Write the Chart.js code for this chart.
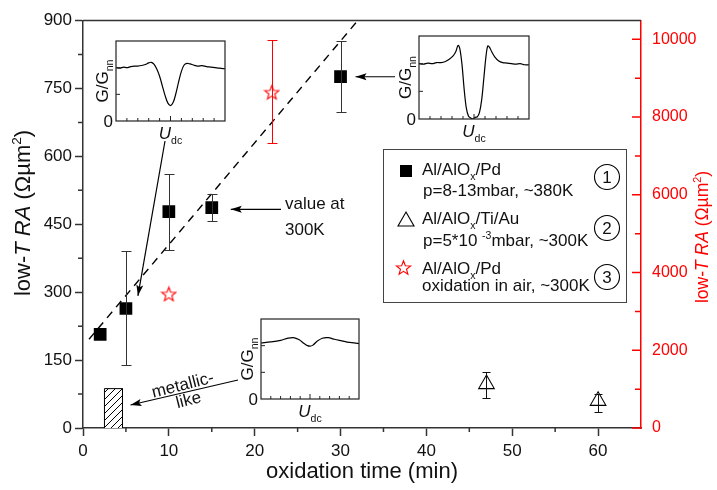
<!DOCTYPE html>
<html>
<head>
<meta charset="utf-8">
<script src="https://cdn.jsdelivr.net/npm/chart.js@4.4.0/dist/chart.umd.min.js"></script>
<style>
  html, body { margin: 0; padding: 0; background: #fff; }
  #wrap { position: relative; width: 717px; height: 490px; }
  #wrap canvas { position: absolute; }
</style>
</head>
<body>
<div id="wrap"><canvas id="main" width="717" height="490" style="left:0;top:0"></canvas></div>
<script>
const FONT = "'Liberation Sans', Arial, sans-serif";

// axes
const xTicks = [0, 10, 20, 30, 40, 50, 60];
const xMinor = [5, 15, 25, 35, 45, 55];
const yTicks = [0, 150, 300, 450, 600, 750, 900];
const yMinor = [75, 225, 375, 525, 675, 825];
const y2Ticks = [0, 2000, 4000, 6000, 8000, 10000];
const y2Minor = [1000, 3000, 5000, 7000, 9000];

// (1) Al/AlOx/Pd, p=8-13mbar
const pdTime = [2, 5, 10, 15, 30];
const pdRA = [207, 264, 478, 487, 776];
const pdLow = [null, 139, 393, 457, 697];
const pdHigh = [null, 392, 561, 517, 854];

// (2) Al/AlOx/Ti/Au
const tiTime = [47, 60];
const tiRA = [97, 60];
const tiLow = [66, 36];
const tiHigh = [123, 75];

// (3) oxidation in air, right axis
const airTime = [10, 22];
const airRA = [3450, 8640];
const airLow = [null, 7320];
const airHigh = [null, 9970];

// dashed guide line
const fitTime = [0.7, 32];
const fitRA = [196, 900];

// metallic-like hatched block
const metalTime = [2.5, 4.6];
const metalRA = 87;

// insets: G/Gnn vs Udc
const inset1U = [-1, -0.93, -0.86, -0.8, -0.73, -0.66, -0.6, -0.53, -0.46, -0.4, -0.35, -0.3, -0.25, -0.2, -0.15, -0.1, -0.05, 0, 0.05, 0.1, 0.15, 0.2, 0.25, 0.3, 0.36, 0.42, 0.5, 0.58, 0.66, 0.74, 0.82, 0.9, 1];
const inset1G = [1.0, 0.99, 1.01, 1.0, 1.02, 1.03, 1.03, 1.04, 1.06, 1.09, 1.1, 1.06, 0.97, 0.84, 0.66, 0.48, 0.34, 0.29, 0.35, 0.52, 0.74, 0.93, 1.05, 1.08, 1.07, 1.05, 1.03, 1.04, 1.02, 1.01, 1.0, 0.99, 0.98];
const inset2U = [-1, -0.92, -0.84, -0.76, -0.68, -0.6, -0.52, -0.45, -0.38, -0.33, -0.29, -0.26, -0.22, -0.18, -0.14, -0.1, -0.06, -0.02, 0.02, 0.06, 0.1, 0.14, 0.18, 0.22, 0.25, 0.28, 0.32, 0.38, 0.45, 0.52, 0.6, 0.68, 0.76, 0.84, 0.92, 1];
const inset2G = [1.0, 0.99, 1.01, 1.0, 1.02, 1.02, 1.04, 1.08, 1.14, 1.22, 1.33, 1.28, 1.0, 0.55, 0.2, 0.05, 0.02, 0.0, 0.03, 0.04, 0.12, 0.35, 0.75, 1.15, 1.32, 1.3, 1.22, 1.12, 1.05, 1.02, 1.01, 1.0, 0.99, 1.0, 0.98, 0.98];
const inset3U = [-1, -0.8, -0.6, -0.45, -0.34, -0.22, -0.12, -0.05, 0, 0.06, 0.14, 0.25, 0.37, 0.5, 0.65, 0.8, 1];
const inset3G = [1.05, 1.07, 1.1, 1.14, 1.15, 1.11, 1.04, 1.0, 0.99, 1.01, 1.08, 1.14, 1.15, 1.12, 1.09, 1.06, 1.04];

const mainCanvas = document.getElementById("main");
const mainCtx = mainCanvas.getContext("2d");

function starImage(size, color) {
  const c = document.createElement("canvas");
  c.width = c.height = size;
  const g = c.getContext("2d");
  const R = size / 2 - 1, r = R * 0.42, cx = size / 2, cy = size / 2 + R * 0.1;
  g.beginPath();
  for (let i = 0; i < 10; i++) {
    const a = -Math.PI / 2 + i * Math.PI / 5;
    const rad = i % 2 ? r : R;
    g.lineTo(cx + rad * Math.cos(a), cy + rad * Math.sin(a));
  }
  g.closePath();
  g.fillStyle = "#fff";
  g.fill();
  g.strokeStyle = color;
  g.lineWidth = 1.1;
  g.stroke();
  return c;
}

function hatchPattern() {
  const c = document.createElement("canvas");
  c.width = c.height = 7;
  const g = c.getContext("2d");
  g.fillStyle = "#fff";
  g.fillRect(0, 0, 7, 7);
  g.strokeStyle = "#000";
  g.lineWidth = 1;
  g.beginPath();
  g.moveTo(0, 7); g.lineTo(7, 0);
  g.moveTo(-1, 1); g.lineTo(1, -1);
  g.moveTo(6, 8); g.lineTo(8, 6);
  g.stroke();
  return mainCtx.createPattern(c, "repeat");
}

// text with italic / sub / sup pieces, y is the baseline
function drawRuns(ctx, runs, x, y, size, align) {
  const parts = runs.map(r => {
    const s = (r.sub || r.sup) ? size * 0.62 : size;
    const f = (r.it ? "italic " : "") + s + "px " + FONT;
    ctx.font = f;
    return { t: r.t, f: f, w: ctx.measureText(r.t).width, dy: r.sub ? size * 0.28 : r.sup ? -size * 0.4 : 0 };
  });
  const total = parts.reduce((a, p) => a + p.w, 0);
  let cx = align === "center" ? x - total / 2 : align === "right" ? x - total : x;
  ctx.textAlign = "left";
  ctx.textBaseline = "alphabetic";
  parts.forEach(p => {
    ctx.font = p.f;
    ctx.fillText(p.t, cx, y + p.dy);
    cx += p.w;
  });
}

function arrow(ctx, x1, y1, x2, y2) {
  ctx.beginPath();
  ctx.moveTo(x1, y1);
  ctx.lineTo(x2, y2);
  ctx.stroke();
  const a = Math.atan2(y2 - y1, x2 - x1), L = 11, W = 3.5;
  ctx.beginPath();
  ctx.moveTo(x2, y2);
  ctx.lineTo(x2 - L * Math.cos(a) + W * Math.sin(a), y2 - L * Math.sin(a) - W * Math.cos(a));
  ctx.lineTo(x2 - L * Math.cos(a) * 0.8, y2 - L * Math.sin(a) * 0.8);
  ctx.lineTo(x2 - L * Math.cos(a) - W * Math.sin(a), y2 - L * Math.sin(a) + W * Math.cos(a));
  ctx.closePath();
  ctx.fill();
}

const errorBars = {
  id: "errorBars",
  afterDatasetsDraw(chart) {
    const ctx = chart.ctx;
    chart.data.datasets.forEach((ds, i) => {
      if (!ds.errLow) return;
      const meta = chart.getDatasetMeta(i);
      const ys = chart.scales[ds.yAxisID];
      ctx.save();
      ctx.strokeStyle = ds.errColor;
      ctx.lineWidth = 1;
      meta.data.forEach((pt, j) => {
        if (ds.errLow[j] == null) return;
        const x = Math.round(pt.x) + 0.5;
        const yl = Math.round(ys.getPixelForValue(ds.errLow[j])) + 0.5;
        const yh = Math.round(ys.getPixelForValue(ds.errHigh[j])) + 0.5;
        const w = ds.errCap;
        ctx.beginPath();
        ctx.moveTo(x, yl); ctx.lineTo(x, yh);
        ctx.moveTo(x - w, yl); ctx.lineTo(x + w, yl);
        ctx.moveTo(x - w, yh); ctx.lineTo(x + w, yh);
        ctx.stroke();
      });
      ctx.restore();
    });
  }
};

const decor = {
  id: "decor",
  afterDraw(chart) {
    const ctx = chart.ctx;
    const a = chart.chartArea;
    const xs = chart.scales.x, ys = chart.scales.y, y2s = chart.scales.y2;
    ctx.save();

    // top frame line
    ctx.strokeStyle = "#333";
    ctx.lineWidth = 1.5;
    ctx.beginPath();
    ctx.moveTo(a.left, a.top); ctx.lineTo(a.right, a.top);
    ctx.stroke();

    // minor ticks
    ctx.lineWidth = 1.5;
    ctx.beginPath();
    yMinor.forEach(v => { const p = ys.getPixelForValue(v); ctx.moveTo(a.left - 5, p); ctx.lineTo(a.left, p); });
    xMinor.forEach(v => { const p = xs.getPixelForValue(v); ctx.moveTo(p, a.bottom); ctx.lineTo(p, a.bottom + 4); });
    ctx.stroke();

    // right axis ticks point inwards
    ctx.strokeStyle = "#ff0000";
    ctx.beginPath();
    y2Ticks.forEach(v => { const p = y2s.getPixelForValue(v); ctx.moveTo(a.right - 9, p); ctx.lineTo(a.right, p); });
    y2Minor.forEach(v => { const p = y2s.getPixelForValue(v); ctx.moveTo(a.right - 6, p); ctx.lineTo(a.right, p); });
    ctx.stroke();

    // axis titles
    const raRuns = [{ t: "low-" }, { t: "T", it: 1 }, { t: " " }, { t: "RA", it: 1 }, { t: " (\u03A9\u00B5m" }, { t: "2", sup: 1 }, { t: ")" }];
    ctx.fillStyle = "#111";
    ctx.save();
    ctx.translate(30, 213);
    ctx.rotate(-Math.PI / 2);
    drawRuns(ctx, raRuns, 0, 0, 22, "center");
    ctx.restore();

    ctx.fillStyle = "#ff0000";
    ctx.save();
    ctx.translate(708, 237);
    ctx.rotate(-Math.PI / 2);
    drawRuns(ctx, raRuns, 0, 0, 17.5, "center");
    ctx.restore();

    ctx.fillStyle = "#111";
    drawRuns(ctx, [{ t: "oxidation time (min)" }], (a.left + a.right) / 2, 478, 22, "center");

    // legend
    ctx.strokeStyle = "#444";
    ctx.lineWidth = 1;
    ctx.strokeRect(383.5, 149.5, 243, 153);
    ctx.fillStyle = "#000";
    ctx.fillRect(400, 165, 12, 12);
    ctx.strokeStyle = "#000";
    ctx.lineWidth = 1.1;
    ctx.beginPath();
    ctx.moveTo(406, 212); ctx.lineTo(414, 226); ctx.lineTo(398, 226); ctx.closePath();
    ctx.stroke();
    ctx.drawImage(starIcon, 395, 259);

    ctx.fillStyle = "#111";
    const L = 17;
    drawRuns(ctx, [{ t: "Al/AlO" }, { t: "x", sub: 1 }, { t: "/Pd" }], 422, 175, L, "left");
    drawRuns(ctx, [{ t: "p=8-13mbar, ~380K" }], 423, 196, L, "left");
    drawRuns(ctx, [{ t: "Al/AlO" }, { t: "x", sub: 1 }, { t: "/Ti/Au" }], 422, 224, L, "left");
    drawRuns(ctx, [{ t: "p=5*10 " }, { t: "-3", sup: 1 }, { t: "mbar, ~300K" }], 423, 246, L, "left");
    drawRuns(ctx, [{ t: "Al/AlO" }, { t: "x", sub: 1 }, { t: "/Pd" }], 422, 274, L, "left");
    drawRuns(ctx, [{ t: "oxidation in air, ~300K" }], 422, 291, L, "left");
    [["1", 177], ["2", 228], ["3", 277]].forEach(c => {
      ctx.beginPath();
      ctx.arc(607, c[1], 12.5, 0, Math.PI * 2);
      ctx.stroke();
      drawRuns(ctx, [{ t: c[0] }], 607, c[1] + 6, L, "center");
    });

    // annotations
    ctx.strokeStyle = "#000";
    ctx.fillStyle = "#000";
    ctx.lineWidth = 1.2;
    arrow(ctx, 165, 141, xs.getPixelForValue(5) + 12, ys.getPixelForValue(292));
    arrow(ctx, 395, ys.getPixelForValue(776), xs.getPixelForValue(30) + 15, ys.getPixelForValue(776));
    arrow(ctx, 281, ys.getPixelForValue(483), xs.getPixelForValue(15) + 19, ys.getPixelForValue(483));
    arrow(ctx, 238, 380, xs.getPixelForValue(4.6) + 8, 405);

    ctx.fillStyle = "#111";
    drawRuns(ctx, [{ t: "value at" }], 285, 209, L, "left");
    drawRuns(ctx, [{ t: "300K" }], 285, 235, L, "left");
    ctx.save();
    ctx.translate(184, 390);
    ctx.rotate(-14 * Math.PI / 180);
    drawRuns(ctx, [{ t: "metallic-" }], 0, 0, L, "center");
    drawRuns(ctx, [{ t: "like" }], 2, 16, L, "center");
    ctx.restore();

    ctx.restore();
  }
};

const starIcon = starImage(17, "#ff0000");
const starPoint = starImage(17, "#ff0000");

new Chart(mainCtx, {
  type: "scatter",
  data: {
    datasets: [
      {
        data: pdTime.map((t, i) => ({ x: t, y: pdRA[i] })),
        yAxisID: "y",
        pointStyle: "rect",
        pointRadius: 9,
        pointBackgroundColor: "#000",
        pointBorderColor: "#000",
        pointBorderWidth: 0,
        errLow: pdLow, errHigh: pdHigh, errColor: "#333", errCap: 5
      },
      {
        data: tiTime.map((t, i) => ({ x: t, y: tiRA[i] })),
        yAxisID: "y",
        pointStyle: "triangle",
        pointRadius: 9,
        pointBackgroundColor: "rgba(0,0,0,0)",
        pointBorderColor: "#000",
        pointBorderWidth: 1.1,
        errLow: tiLow, errHigh: tiHigh, errColor: "#111", errCap: 4
      },
      {
        data: airTime.map((t, i) => ({ x: t, y: airRA[i] })),
        yAxisID: "y2",
        pointStyle: starPoint,
        pointRadius: 8,
        errLow: airLow, errHigh: airHigh, errColor: "#ff0000", errCap: 5
      },
      {
        type: "line",
        data: fitTime.map((t, i) => ({ x: t, y: fitRA[i] })),
        yAxisID: "y",
        showLine: true,
        borderColor: "#000",
        borderWidth: 1.4,
        borderDash: [8, 6],
        pointRadius: 0,
        fill: false
      },
      {
        type: "line",
        data: [
          { x: metalTime[0], y: 0 }, { x: metalTime[0], y: metalRA },
          { x: metalTime[1], y: metalRA }, { x: metalTime[1], y: 0 }
        ],
        yAxisID: "y",
        showLine: true,
        borderColor: "#000",
        borderWidth: 1,
        pointRadius: 0,
        tension: 0,
        fill: "origin",
        backgroundColor: hatchPattern()
      }
    ]
  },
  options: {
    responsive: false,
    animation: false,
    devicePixelRatio: 1,
    layout: { padding: { top: 20 } },
    plugins: { legend: { display: false }, tooltip: { enabled: false } },
    scales: {
      x: {
        type: "linear", min: 0, max: 65,
        afterBuildTicks: s => { s.ticks = xTicks.map(v => ({ value: v })); },
        afterFit: s => { s.height = 62; },
        border: { color: "#333", width: 1.5 },
        grid: { drawOnChartArea: false, tickLength: 8, tickColor: "#333", tickWidth: 1.5 },
        ticks: { padding: 5, color: "#111", font: { size: 17, family: FONT } }
      },
      y: {
        position: "left", min: 0, max: 900,
        afterBuildTicks: s => { s.ticks = yTicks.map(v => ({ value: v })); },
        afterFit: s => { s.width = 83; },
        border: { color: "#333", width: 1.5 },
        grid: { drawOnChartArea: false, tickLength: 8, tickColor: "#333", tickWidth: 1.5 },
        ticks: { padding: 3, color: "#111", font: { size: 17, family: FONT } }
      },
      y2: {
        position: "right", min: 0, max: 10480,
        afterBuildTicks: s => { s.ticks = y2Ticks.map(v => ({ value: v })); },
        afterFit: s => { s.width = 76; },
        border: { color: "#ff0000", width: 1.5 },
        grid: { drawOnChartArea: false, drawTicks: false },
        ticks: { padding: 11, color: "#ff0000", font: { size: 16, family: FONT }, callback: v => String(v) }
      }
    }
  },
  plugins: [errorBars, decor]
});

// inset spectra, each its own small chart
const insetFrame = {
  id: "insetFrame",
  afterDraw(chart) {
    const ctx = chart.ctx;
    const a = chart.chartArea;
    const xs = chart.scales.x, ys = chart.scales.y;
    ctx.save();
    ctx.strokeStyle = "#222";
    ctx.lineWidth = 1.2;
    ctx.strokeRect(a.left, a.top, a.right - a.left, a.bottom - a.top);
    ctx.lineWidth = 1;
    ctx.beginPath();
    [0.5, 1.0].forEach(v => { const p = ys.getPixelForValue(v); ctx.moveTo(a.left, p); ctx.lineTo(a.left + 4, p); });
    [-0.8, -0.6, -0.4, -0.2, 0, 0.2, 0.4, 0.6, 0.8].forEach(v => {
      const p = xs.getPixelForValue(v);
      ctx.moveTo(p, a.bottom); ctx.lineTo(p, a.bottom - (v === 0 ? 5 : 3));
    });
    ctx.stroke();
    ctx.fillStyle = "#111";
    drawRuns(ctx, [{ t: "0" }], a.left - 3, a.bottom + 6, 17, "right");
    drawRuns(ctx, [{ t: "U", it: 1 }, { t: "dc", sub: 1 }], (a.left + a.right) / 2, a.bottom + 18, 17, "center");
    ctx.save();
    ctx.translate(a.left - 8, (a.top + a.bottom) / 2);
    ctx.rotate(-Math.PI / 2);
    drawRuns(ctx, [{ t: "G/G" }, { t: "nn", sub: 1 }], 0, 0, 17, "center");
    ctx.restore();
    ctx.restore();
  }
};

function makeInset(box, u, g) {
  const padL = 45, padT = 6, padR = 6, padB = 26;
  const c = document.createElement("canvas");
  const w = box.r - box.l + padL + padR, h = box.b - box.t + padT + padB;
  c.width = w; c.height = h;
  c.style.left = (box.l - padL) + "px";
  c.style.top = (box.t - padT) + "px";
  document.getElementById("wrap").appendChild(c);
  new Chart(c.getContext("2d"), {
    type: "scatter",
    data: {
      datasets: [{
        data: u.map((v, i) => ({ x: v, y: g[i] })),
        showLine: true,
        borderColor: "#000",
        borderWidth: 1.2,
        pointRadius: 0,
        tension: 0.35
      }]
    },
    options: {
      responsive: false,
      animation: false,
      devicePixelRatio: 1,
      layout: { padding: { left: padL, top: padT, right: padR, bottom: padB } },
      plugins: { legend: { display: false }, tooltip: { enabled: false } },
      scales: {
        x: { type: "linear", min: -1, max: 1, grid: { display: false, drawTicks: false }, border: { display: false }, ticks: { display: false } },
        y: { min: 0, max: 1.5, grid: { display: false, drawTicks: false }, border: { display: false }, ticks: { display: false } }
      }
    },
    plugins: [insetFrame]
  });
}

makeInset({ l: 116, t: 41, r: 225, b: 121 }, inset1U, inset1G);
makeInset({ l: 419, t: 36, r: 529, b: 119 }, inset2U, inset2G);
makeInset({ l: 261, t: 319, r: 359, b: 399 }, inset3U, inset3G);
</script>
</body>
</html>
